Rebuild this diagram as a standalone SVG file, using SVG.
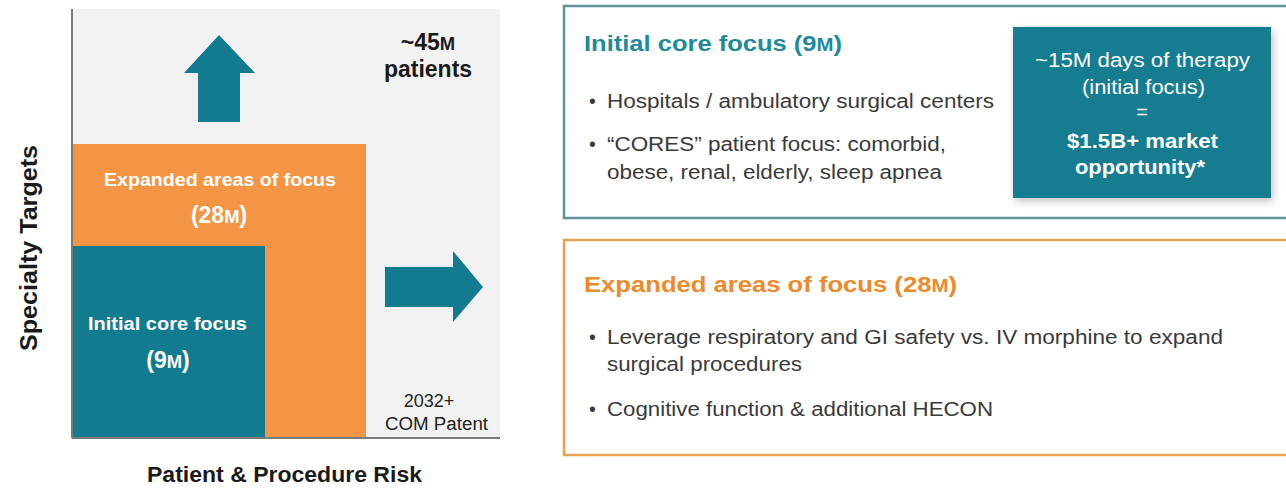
<svg xmlns="http://www.w3.org/2000/svg" width="1286" height="488" viewBox="0 0 1286 488">
  <style>
    text { font-family: "Liberation Sans", Arial, sans-serif; }
    .teal { fill: #137b90; }
    .orange { fill: #f39545; }
    .wb { fill: #ffffff; font-weight: bold; }
    .blk { fill: #1a1a1a; font-weight: bold; }
    .body { fill: #3a3a3a; font-size: 19.5px; }
    .box { fill: #ffffff; font-size: 19.5px; }
    .sc { font-size: 0.8em; }
  </style>
  <defs>
    <filter id="shadow" x="-10%" y="-10%" width="125%" height="125%">
      <feGaussianBlur in="SourceAlpha" stdDeviation="4"/>
      <feOffset dx="2" dy="3"/>
      <feComponentTransfer><feFuncA type="linear" slope="0.25"/></feComponentTransfer>
      <feMerge><feMergeNode/><feMergeNode in="SourceGraphic"/></feMerge>
    </filter>
  </defs>
  <rect width="1286" height="488" fill="#ffffff"/>

  <!-- chart area -->
  <g id="chart">
    <rect x="72" y="9" width="428" height="429" fill="#f2f2f2"/>
    <line x1="72" y1="9" x2="72" y2="438" stroke="#7a7a7a" stroke-width="2"/>
    <line x1="72" y1="438" x2="500" y2="438" stroke="#7a7a7a" stroke-width="2"/>
  </g>

  <g id="expanded-block">
    <rect class="orange" x="73" y="144" width="293" height="293"/>
    <text class="wb" x="104" y="186" font-size="19" textLength="232" lengthAdjust="spacingAndGlyphs">Expanded areas of focus</text>
    <text class="wb" x="219" y="223" font-size="23" text-anchor="middle">(28<tspan class="sc">M</tspan>)</text>
  </g>

  <g id="core-block">
    <rect class="teal" x="73" y="246" width="192" height="191"/>
    <text class="wb" x="88" y="330" font-size="19" textLength="159" lengthAdjust="spacingAndGlyphs">Initial core focus</text>
    <text class="wb" x="168" y="368" font-size="23" text-anchor="middle">(9<tspan class="sc">M</tspan>)</text>
  </g>

  <g id="total-label">
    <text class="blk" x="428" y="50" font-size="23" text-anchor="middle">~45<tspan class="sc">M</tspan></text>
    <text class="blk" x="428" y="77" font-size="23" text-anchor="middle">patients</text>
  </g>

  <g id="patent-label">
    <text x="429" y="407" font-size="18" fill="#222" text-anchor="middle">2032+</text>
    <text x="385" y="430" font-size="18" fill="#222" textLength="103" lengthAdjust="spacingAndGlyphs">COM Patent</text>
  </g>

  <g id="axis-labels">
    <text class="blk" x="147" y="482" font-size="22" textLength="275" lengthAdjust="spacingAndGlyphs">Patient &amp; Procedure Risk</text>
    <text class="blk" x="0" y="0" font-size="23" text-anchor="middle" textLength="206" lengthAdjust="spacingAndGlyphs" transform="translate(37,248) rotate(-90)">Specialty Targets</text>
  </g>

  <!-- direction arrows -->
  <g id="connectors">
    <polygon class="teal" points="198,122 240,122 240,73 255,73 219,35 184,73 198,73"/>
    <polygon class="teal" points="385,267 453,267 453,251 483,287 453,322 453,307 385,307"/>
  </g>

  <!-- initial focus panel -->
  <g id="core-panel">
    <rect x="564" y="6" width="730" height="212" fill="#ffffff" stroke="#5f9299" stroke-width="2.5"/>
    <text x="584" y="51" font-size="22" fill="#1f8a99" font-weight="bold" textLength="258" lengthAdjust="spacingAndGlyphs">Initial core focus (9<tspan class="sc">M</tspan>)</text>
    <text class="body" x="589" y="108">•</text>
    <text class="body" x="607" y="108" textLength="387" lengthAdjust="spacingAndGlyphs">Hospitals / ambulatory  surgical centers</text>
    <text class="body" x="589" y="151">•</text>
    <text class="body" x="607" y="151" textLength="339" lengthAdjust="spacingAndGlyphs">“CORES” patient focus: comorbid,</text>
    <text class="body" x="607" y="179" textLength="335" lengthAdjust="spacingAndGlyphs">obese, renal, elderly, sleep apnea</text>
  </g>

  <g id="market-box">
    <rect x="1013" y="27" width="258" height="171" fill="#137b90" filter="url(#shadow)"/>
    <text class="box" x="1035" y="67" textLength="215" lengthAdjust="spacingAndGlyphs">~15M days of therapy</text>
    <text class="box" x="1082" y="94" textLength="123" lengthAdjust="spacingAndGlyphs">(initial focus)</text>
    <text class="box" x="1142" y="119" text-anchor="middle">=</text>
    <text class="box" x="1067" y="148" font-weight="bold" textLength="151" lengthAdjust="spacingAndGlyphs">$1.5B+ market</text>
    <text class="box" x="1075" y="174" font-weight="bold" textLength="130" lengthAdjust="spacingAndGlyphs">opportunity*</text>
  </g>

  <!-- expanded focus panel -->
  <g id="expanded-panel">
    <rect x="564" y="240" width="730" height="215" fill="#ffffff" stroke="#e9a24e" stroke-width="2.5"/>
    <text x="584" y="292" font-size="22" fill="#ec8a2c" font-weight="bold" textLength="373" lengthAdjust="spacingAndGlyphs">Expanded areas of focus (28<tspan class="sc">M</tspan>)</text>
    <text class="body" x="589" y="344">•</text>
    <text class="body" x="607" y="344" textLength="616" lengthAdjust="spacingAndGlyphs">Leverage respiratory and GI safety vs. IV morphine  to expand</text>
    <text class="body" x="607" y="371" textLength="195" lengthAdjust="spacingAndGlyphs">surgical procedures</text>
    <text class="body" x="589" y="416">•</text>
    <text class="body" x="607" y="416" textLength="386" lengthAdjust="spacingAndGlyphs">Cognitive function &amp; additional HECON</text>
  </g>
</svg>
